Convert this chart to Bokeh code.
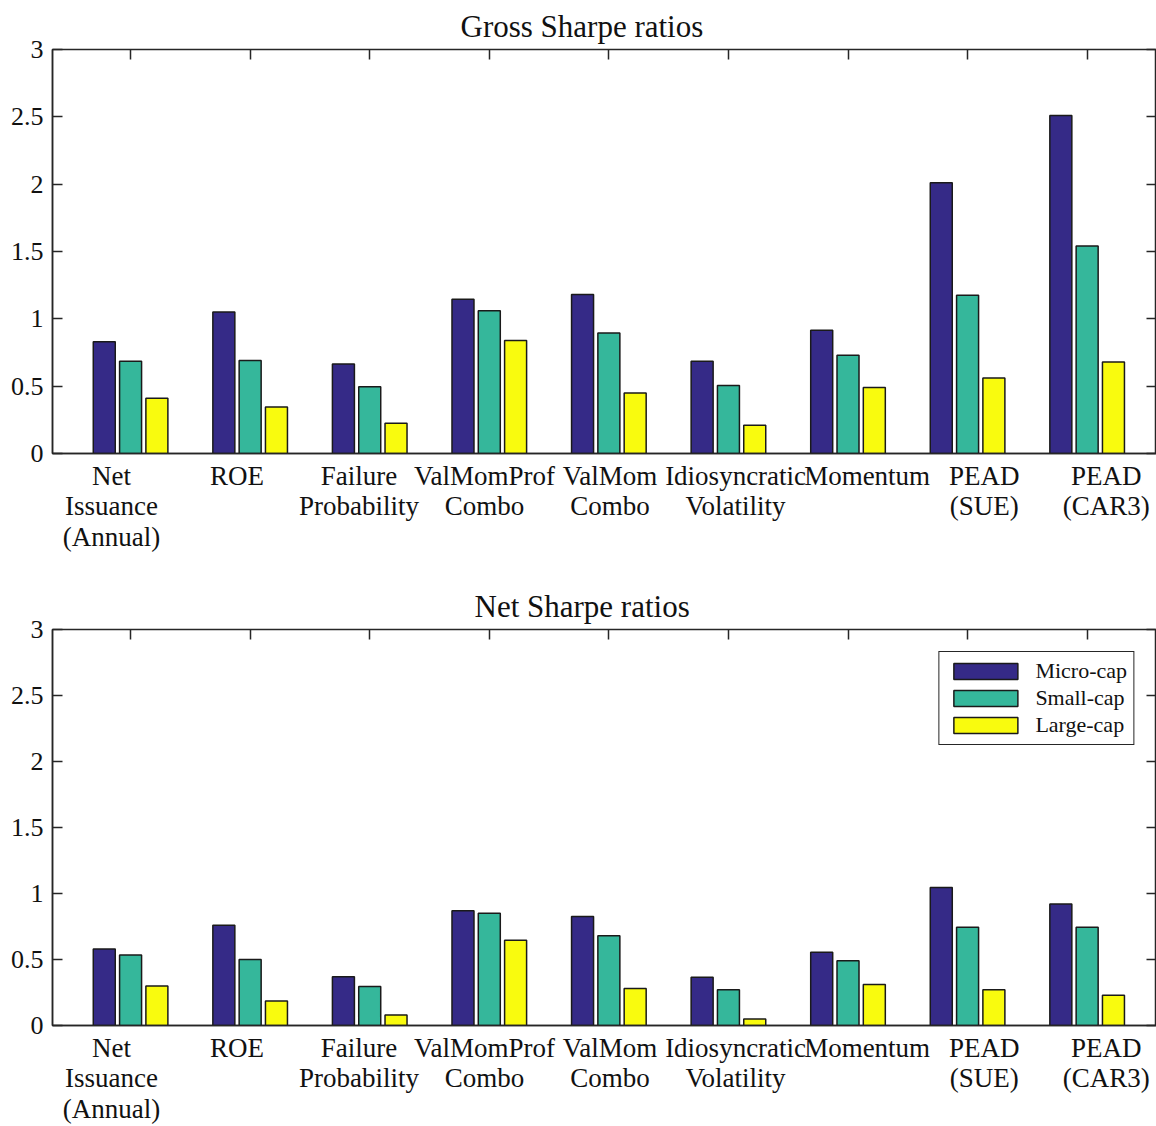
import numpy as np
from bokeh.plotting import figure
from bokeh.models import Range1d, FixedTicker, LinearAxis, Legend, LegendItem
from bokeh.layouts import column
from bokeh.embed import file_html
from bokeh.resources import INLINE

categories = ["Net\nIssuance\n(Annual)", "ROE", "Failure\nProbability", "ValMomProf\nCombo",
              "ValMom\nCombo", "Idiosyncratic\nVolatility", "Momentum", "PEAD\n(SUE)", "PEAD\n(CAR3)"]
series = ["Micro-cap", "Small-cap", "Large-cap"]

gross_micro = [0.83, 1.05, 0.665, 1.145, 1.18, 0.685, 0.915, 2.01, 2.51]
gross_small = [0.685, 0.69, 0.495, 1.06, 0.895, 0.505, 0.73, 1.175, 1.54]
gross_large = [0.41, 0.345, 0.225, 0.84, 0.45, 0.21, 0.49, 0.56, 0.68]

net_micro = [0.58, 0.76, 0.37, 0.87, 0.825, 0.365, 0.555, 1.045, 0.92]
net_small = [0.535, 0.50, 0.295, 0.85, 0.68, 0.27, 0.49, 0.745, 0.745]
net_large = [0.30, 0.185, 0.08, 0.645, 0.28, 0.05, 0.31, 0.27, 0.23]

y_ticks = [0, 0.5, 1, 1.5, 2, 2.5, 3]
y_tick_labels = ["0", "0.5", "1", "1.5", "2", "2.5", "3"]

# where the (slightly shifted) category labels sit, in category units
label_pos = [0.84, 1.89, 2.91, 3.96, 5.01, 6.06, 7.16, 8.14, 9.16]

COLORS = ["#352A87", "#35B79B", "#F9FB0E"]
OFFSETS = [-0.22, 0.0, 0.22]
FONT = "Liberation Serif"
AX = "#262626"
TXT = "#111111"


def make_fig(title_text, title_offset, vals, height, top, bottom, show_legend):
    p = figure(width=1156, height=height, x_range=Range1d(0.347, 9.58), y_range=Range1d(0, 3),
               output_backend="svg", toolbar_location=None,
               min_border_left=52, min_border_right=0, min_border_top=top, min_border_bottom=bottom)
    p.grid.visible = False
    p.background_fill_color = "white"
    p.border_fill_color = "white"
    p.outline_line_color = AX
    p.outline_line_width = 1.5

    pos = np.arange(1, len(categories) + 1)
    rends = []
    for off, v, c in zip(OFFSETS, vals, COLORS):
        r = p.vbar(x=pos + off, top=v, width=0.184, bottom=0, fill_color=c,
                   line_color="#1a1a1a", line_width=1.5)
        rends.append(r)

    xa = p.xaxis[0]
    xa.ticker = FixedTicker(ticks=label_pos)
    xa.major_label_overrides = {lp: lab for lp, lab in zip(label_pos, categories)}
    xa.major_tick_in = 0
    xa.major_tick_out = 0
    xa.minor_tick_line_color = None
    xa.axis_line_color = AX
    xa.axis_line_width = 1.5
    xa.major_label_text_font = FONT
    xa.major_label_text_font_size = "27px"
    xa.major_label_text_color = TXT
    xa.major_label_text_line_height = 1.02
    xa.major_label_standoff = 7

    ya = p.yaxis[0]
    ya.ticker = FixedTicker(ticks=y_ticks)
    ya.major_label_overrides = {t: l for t, l in zip(y_ticks, y_tick_labels)}
    ya.major_tick_in = 10
    ya.major_tick_out = 0
    ya.major_tick_line_color = AX
    ya.major_tick_line_width = 1.5
    ya.minor_tick_line_color = None
    ya.axis_line_color = AX
    ya.axis_line_width = 1.5
    ya.major_label_text_font = FONT
    ya.major_label_text_font_size = "26px"
    ya.major_label_text_color = TXT
    ya.major_label_standoff = 9

    ta = LinearAxis(ticker=FixedTicker(ticks=list(pos)), major_label_text_font_size="1px",
                    major_label_text_color=None,
                    major_tick_in=10, major_tick_out=0, major_tick_line_color=AX,
                    major_tick_line_width=1.5, minor_tick_line_color=None,
                    axis_line_color=None, major_label_standoff=0)
    p.add_layout(ta, "above")

    ra = LinearAxis(ticker=FixedTicker(ticks=y_ticks), major_label_text_font_size="1px",
                    major_label_text_color=None,
                    major_tick_in=10, major_tick_out=0, major_tick_line_color=AX,
                    major_tick_line_width=1.5, minor_tick_line_color=None,
                    axis_line_color=None, major_label_standoff=0)
    p.add_layout(ra, "right")

    p.title.text = title_text
    p.title.text_font = FONT
    p.title.text_font_size = "31px"
    p.title.text_font_style = "normal"
    p.title.text_color = TXT
    p.title.align = "left"
    p.title.offset = title_offset
    p.title.standoff = 12

    if show_legend:
        leg = Legend(items=[LegendItem(label=s, renderers=[r]) for s, r in zip(series, rends)],
                     location="top_right")
        leg.glyph_width = 80
        leg.glyph_height = 20
        leg.label_text_font = FONT
        leg.label_text_font_size = "22px"
        leg.label_text_color = TXT
        leg.label_standoff = 10
        leg.label_height = 20
        leg.spacing = 1
        leg.padding = 6
        leg.margin = 22
        leg.border_line_color = AX
        leg.border_line_width = 1.5
        leg.border_line_alpha = 1.0
        leg.background_fill_color = "white"
        leg.background_fill_alpha = 1.0
        p.add_layout(leg)
    return p


p1 = make_fig("Gross Sharpe ratios", 408, [gross_micro, gross_small, gross_large],
              580, 48, 127, False)
p2 = make_fig("Net Sharpe ratios", 422, [net_micro, net_small, net_large],
              546, 48, 98, True)

layout = column(p1, p2, spacing=0)
open("out.html", "w").write(file_html(layout, INLINE))
